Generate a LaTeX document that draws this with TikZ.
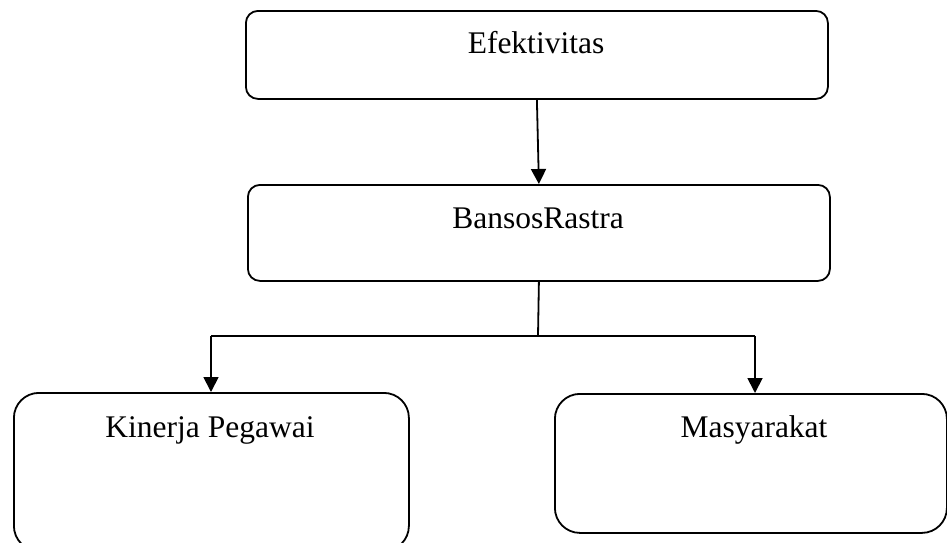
\documentclass[tikz,border=0pt]{standalone}
\usepackage{fontspec}
\setmainfont{Liberation Serif}
\usetikzlibrary{arrows.meta}
\begin{document}
\begin{tikzpicture}[x=1pt,y=-1pt,
  box/.style={draw=black, line width=1.8pt, rectangle, inner sep=0pt, anchor=north west},
  topbox/.style={box, rounded corners=12pt},
  lowbox/.style={box, rounded corners=25pt},
  lbl/.style={anchor=base, inner sep=0pt, font=\fontsize{31.5}{36}\selectfont},
  conn/.style={line width=1.8pt},
  arr/.style={conn, -{Triangle[length=15pt,width=15pt]}}
]
\useasboundingbox (0,0) rectangle (947,542);
\begin{scope}
\clip (0,0) rectangle (947,542);
\node[topbox, minimum width=582pt, minimum height=88pt] (ef) at (245,10) {};
\node[topbox, minimum width=582pt, minimum height=96pt] (br) at (247,184) {};
\node[lowbox, minimum width=395pt, minimum height=158pt] (kp) at (13,392) {};
\node[lowbox, minimum width=392pt, minimum height=139pt] (ms) at (554,393) {};
\end{scope}
\node[lbl] (efl) at (536,53) {Efektivitas};
\node[lbl] (brl) at (538,228) {BansosRastra};
\node[lbl] (kpl) at (210,437) {Kinerja Pegawai};
\node[lbl] (msl) at (754,437) {Masyarakat};
\coordinate (j) at (538,336);
\coordinate (jl) at (211,336);
\coordinate (jr) at (755,336);
\draw[arr] (ef.south) -- (br.north);
\draw[conn] (br.south) -- (j);
\draw[conn] (jl) -- (jr);
\draw[arr] (jl) -- (jl |- kp.north);
\draw[arr] (jr) -- (jr |- ms.north);
\end{tikzpicture}
\end{document}
